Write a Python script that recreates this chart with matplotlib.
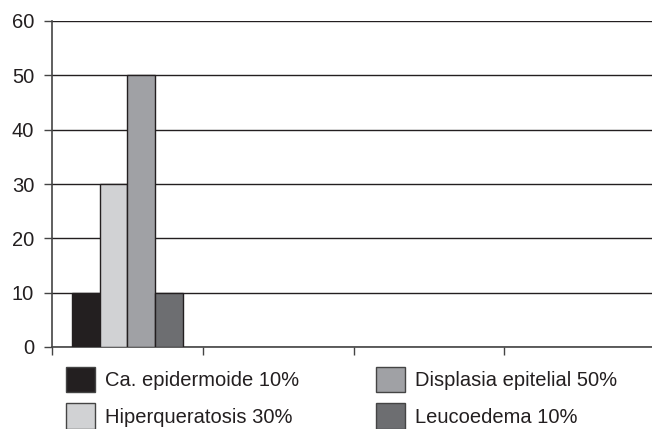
import matplotlib.pyplot as plt
from matplotlib.patches import Patch

plt.rcParams['font.family'] = ['Liberation Sans', 'DejaVu Sans']

series = ['Ca. epidermoide 10%', 'Hiperqueratosis 30%', 'Displasia epitelial 50%', 'Leucoedema 10%']
values = [10, 30, 50, 10]
colors = ['#231f20', '#d1d2d4', '#a0a1a5', '#6d6e71']
n_groups = 4

ink = '#231f20'

fig = plt.figure(figsize=(6.52, 4.29), dpi=100)
ax = fig.add_axes([52 / 652, 1 - 347 / 429, 603 / 652, 326 / 429])

# all four series sit in the first category slot
bar_w = 0.184
start = 0.5 - bar_w * len(values) / 2
for i, (v, c) in enumerate(zip(values, colors)):
    ax.bar(start + bar_w * (i + 0.5), v, width=bar_w, color=c,
           edgecolor=ink, linewidth=1.0, zorder=3)

ax.set_xlim(0, n_groups)
ax.set_ylim(0, 60)
ax.set_yticks(range(0, 61, 10))
ax.set_xticks(range(0, n_groups + 1))
ax.set_xticklabels([])
ax.yaxis.grid(True, color=ink, linewidth=1.0, zorder=0)
for s in ['top', 'right']:
    ax.spines[s].set_visible(False)
for s in ['left', 'bottom']:
    ax.spines[s].set_color('#444444')
    ax.spines[s].set_linewidth(1.2)
ax.tick_params(axis='y', length=5.8, width=1.0, color='#444444', labelsize=14.5,
               labelcolor=ink, pad=7)
ax.tick_params(axis='x', length=5.8, width=1.0, color='#444444')

handles = [Patch(facecolor=c, edgecolor='#444444', linewidth=1.0) for c in colors]
fig.legend(handles, series, ncol=2, loc='upper left', bbox_to_anchor=(66 / 652, 1 - 367 / 429),
           frameon=False, fontsize=14.5, labelcolor=ink, handlelength=1.44, handleheight=1.55,
           handletextpad=0.5, columnspacing=3.8, labelspacing=0.55,
           borderpad=0, borderaxespad=0)

fig.savefig('out.png', dpi=100)
